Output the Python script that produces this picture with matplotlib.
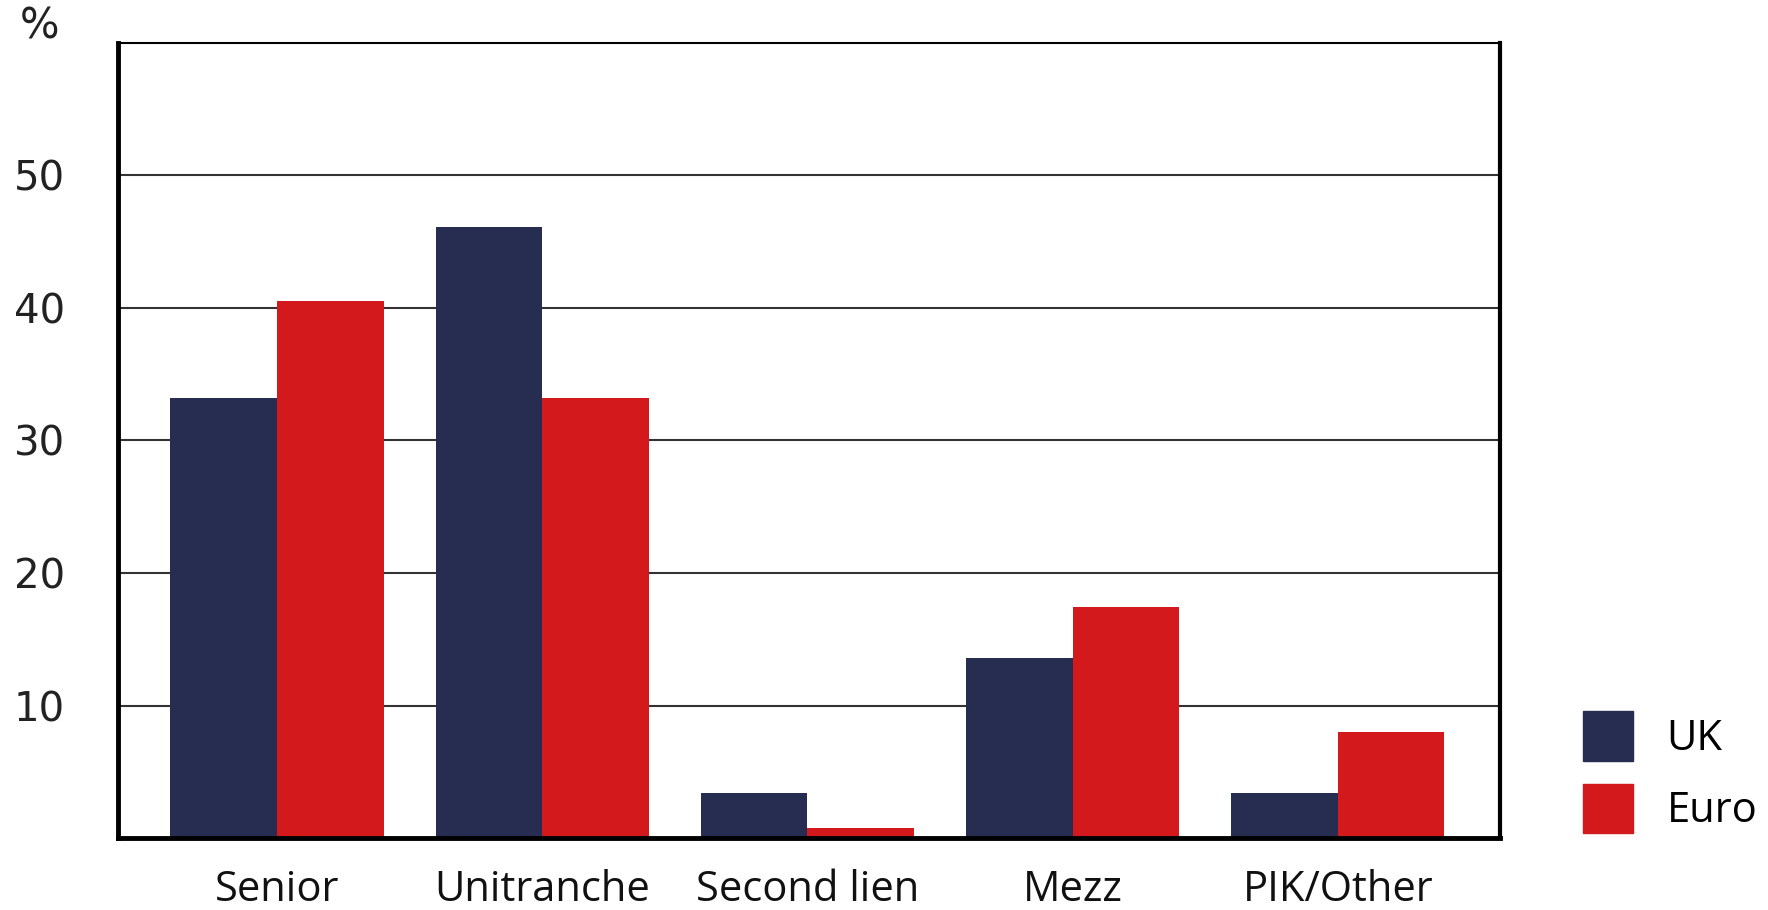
import numpy as np
import matplotlib.pyplot as plt
from matplotlib.patches import Patch

categories = ['Senior', 'Unitranche', 'Second lien', 'Mezz', 'PIK/Other']
uk = [33.2, 46.1, 3.4, 13.6, 3.4]
euro = [40.5, 33.2, 0.8, 17.4, 8.0]
series_names = ['UK', 'Euro']
yticks = [10, 20, 30, 40, 50]

NAVY = '#262d50'
RED = '#d4191c'

fig = plt.figure(figsize=(17.68, 9.10), dpi=100)
ax = fig.add_axes([0.0667, 0.079, 0.7815, 0.874])

x = np.arange(len(categories))
w = 0.402
ax.bar(x - w / 2, uk, w, color=NAVY, zorder=3)
ax.bar(x + w / 2, euro, w, color=RED, zorder=3)

ax.set_xlim(-0.6, 4.61)
ax.set_ylim(0, 60)
ax.set_yticks(yticks)
ax.set_yticklabels([str(t) for t in yticks], fontsize=29, color='#222222',
                   family='DejaVu Sans')
ax.set_xticks(x)
ax.set_xticklabels(categories, fontsize=30, family='Open Sans', color='#111111')
ax.tick_params(axis='y', length=0, pad=38)
ax.tick_params(axis='x', length=0, pad=22)

ax.yaxis.grid(True, color='#333333', linewidth=1.5, zorder=0)
ax.set_axisbelow(True)

ax.spines['left'].set_linewidth(3.5)
ax.spines['bottom'].set_linewidth(3.5)
ax.spines['right'].set_linewidth(3.0)
ax.spines['top'].set_linewidth(1.5)
for s in ax.spines.values():
    s.set_color('black')
    s.set_zorder(4)

fig.text(0.0226, 0.971, '%', fontsize=30, color='#222222', ha='center', va='center',
         family='DejaVu Sans')

handles = [Patch(color=NAVY), Patch(color=RED)]
fig.legend(handles, series_names, loc='lower left', bbox_to_anchor=(0.886, 0.066),
           frameon=False, handlelength=1.2, handleheight=1.45,
           handletextpad=0.8, labelspacing=0.55, borderaxespad=0,
           prop={'family': 'Open Sans', 'size': 30})

fig.savefig('out.png', dpi=100)
